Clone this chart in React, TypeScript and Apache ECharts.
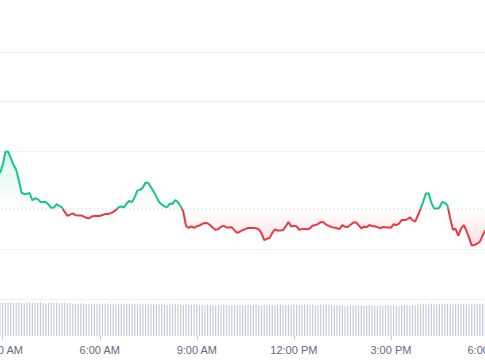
import React, { useEffect, useRef } from "react";
import * as echarts from "echarts";

// sampling: every 5 minutes starting at 2:55 AM
const startMinutes = 175;
const stepMinutes = 5;

const prices = [
  2.545, 2.711, 2.976, 2.984, 2.85, 2.719, 2.615, 2.397, 2.152, 2.121,
  2.132, 2.146, 1.998, 2.038, 2.022, 1.966, 1.964, 1.964, 1.915, 1.846,
  1.852, 1.921, 1.883, 1.854, 1.763, 1.684, 1.709, 1.733, 1.698, 1.69,
  1.692, 1.672, 1.644, 1.632, 1.668, 1.678, 1.68, 1.68, 1.702, 1.719,
  1.721, 1.733, 1.765, 1.802, 1.858, 1.874, 1.852, 1.933, 1.988, 1.962,
  2.067, 2.198, 2.209, 2.257, 2.358, 2.348, 2.263, 2.174, 2.073, 1.964,
  1.915, 1.872, 1.86, 1.933, 1.923, 2.004, 1.96, 1.879, 1.767, 1.478,
  1.439, 1.47, 1.439, 1.472, 1.486, 1.52, 1.538, 1.534, 1.494, 1.437,
  1.399, 1.415, 1.464, 1.48, 1.447, 1.445, 1.451, 1.389, 1.338, 1.362,
  1.397, 1.413, 1.437, 1.439, 1.439, 1.433, 1.409, 1.334, 1.192, 1.219,
  1.233, 1.338, 1.407, 1.385, 1.389, 1.395, 1.472, 1.559, 1.466, 1.484,
  1.47, 1.399, 1.415, 1.415, 1.411, 1.431, 1.488, 1.492, 1.52, 1.557,
  1.555, 1.5, 1.482, 1.453, 1.447, 1.431, 1.419, 1.496, 1.46, 1.457,
  1.502, 1.543, 1.555, 1.494, 1.431, 1.464, 1.453, 1.498, 1.478, 1.472,
  1.455, 1.433, 1.455, 1.453, 1.449, 1.441, 1.514, 1.494, 1.526, 1.599,
  1.599, 1.611, 1.654, 1.597, 1.567, 1.69, 1.826, 1.97, 2.138, 2.14,
  1.945, 1.836, 1.83, 1.848, 1.964, 1.945, 1.891, 1.634, 1.403, 1.421,
  1.283, 1.421, 1.498, 1.387, 1.239, 1.085, 1.093, 1.121, 1.158, 1.285,
  1.391,
];

const volumes = [
  90, 91, 89, 90, 92, 90, 89, 91, 90, 88, 90, 91, 89, 90, 90, 92, 89, 88, 90, 91, 89, 90, 88, 89, 90, 88, 89, 87,
  87, 86, 88, 87, 86, 87, 88, 86, 85, 87, 86, 88, 87, 86, 87, 85, 86, 87, 88, 86, 87,
  86, 87, 85, 86, 88, 86, 85, 87, 86, 85, 86, 87, 85, 84, 86, 85, 87, 86, 85, 84, 86, 85, 84, 86, 85, 84,
  84, 83, 85, 84, 83, 82, 84, 83, 85, 84, 83, 82, 84, 83, 84, 83,
  84, 85, 83, 84, 86, 84, 83, 85, 84, 85, 83, 84, 86, 85, 84, 83, 85, 84, 86, 85, 84, 83, 85, 86, 84, 85, 83, 84, 85, 84, 86, 85,
  83, 82, 84, 83, 82, 81, 83, 82, 84, 83, 82, 83, 81, 82, 84, 83, 82, 81, 83, 82, 83, 84, 82, 83, 81, 82, 83, 84, 83, 82, 84, 83, 85,
  86, 87, 85, 86, 88, 86, 85, 87, 86, 88, 87, 86, 85, 87, 86, 88, 86, 87, 85, 86, 87, 86, 88, 87, 86,
];

const openPrice = 1.822;
const tickLabels = ["12:00 AM", "3:00 AM", "6:00 AM", "9:00 AM", "12:00 PM", "3:00 PM", "6:00 PM"];

const GREEN = "#16c784";
const RED = "#ea3943";

export default function App() {
  const ref = useRef<HTMLDivElement>(null);

  useEffect(() => {
    if (!ref.current) return;
    const chart = echarts.init(ref.current, undefined, { renderer: "svg" });

    const hours = prices.map((_, i) => (startMinutes + i * stepMinutes) / 60);
    const maxV = Math.max(...prices);
    const minV = Math.min(...prices);
    const frac = (maxV - openPrice) / (maxV - minV);

    const pxPerHour = 32.35;
    const gridLeft = 2.7 - 3 * pxPerHour;
    const gridRight = 485 - (gridLeft + 18 * pxPerHour);

    const gc = "#f0f1f3";

    const lineGradient = new echarts.graphic.LinearGradient(0, 0, 0, 1, [
      { offset: 0, color: GREEN },
      { offset: frac, color: GREEN },
      { offset: frac, color: RED },
      { offset: 1, color: RED },
    ]);
    const areaGradient = new echarts.graphic.LinearGradient(0, 0, 0, 1, [
      { offset: 0, color: "rgba(22,199,132,0.16)" },
      { offset: frac, color: "rgba(22,199,132,0.0)" },
      { offset: frac, color: "rgba(234,57,67,0.0)" },
      { offset: 1, color: "rgba(234,57,67,0.15)" },
    ]);

    chart.setOption({
      animation: false,
      grid: [
        { left: gridLeft, right: gridRight, top: 52, bottom: 61, containLabel: false, outerBoundsMode: "none" },
        { left: gridLeft, right: gridRight, top: 299, bottom: 24, containLabel: false, outerBoundsMode: "none" },
      ],
      xAxis: [
        { type: "value", gridIndex: 0, min: 0, max: 18, interval: 3, show: false },
        {
          type: "value",
          gridIndex: 1,
          min: 0,
          max: 18,
          interval: 3,
          axisLine: { show: false },
          axisTick: { show: true, length: 4, lineStyle: { color: "#c3c9d4" } },
          splitLine: { show: false },
          axisLabel: {
            formatter: (v: number) => tickLabels[Math.round(v / 3)] ?? "",
            color: "#5f6b80",
            fontSize: 11,
            fontFamily: "Liberation Sans, Arial, sans-serif",
            margin: 8,
            hideOverlap: false,
          },
        },
      ],
      yAxis: [
        {
          type: "value",
          gridIndex: 0,
          min: 0,
          max: 5,
          interval: 1,
          axisLabel: { show: false },
          axisLine: { show: false },
          axisTick: { show: false },
          splitLine: {
            show: true,
            lineStyle: { color: [gc, gc, "rgba(0,0,0,0)", gc, gc, gc], width: 1 },
          },
        },
        { type: "value", gridIndex: 1, min: 0, max: 100, show: false, splitLine: { show: false } },
      ],
      series: [
        {
          type: "line",
          xAxisIndex: 0,
          yAxisIndex: 0,
          data: prices.map((p, i) => [hours[i], p]),
          symbol: "none",
          lineStyle: { width: 2, color: lineGradient },
          areaStyle: { origin: openPrice, opacity: 1, color: areaGradient },
          z: 3,
        },
        {
          type: "line",
          xAxisIndex: 0,
          yAxisIndex: 0,
          data: [
            [0, openPrice],
            [18, openPrice],
          ],
          symbol: "none",
          silent: true,
          lineStyle: { color: "#c2c2c2", type: [1, 3], width: 1 },
          z: 2,
        },
        {
          type: "bar",
          xAxisIndex: 1,
          yAxisIndex: 1,
          data: volumes.map((v, i) => [hours[i], v]),
          barWidth: 1.2,
          itemStyle: { color: "#c4cbd9" },
        },
      ],
    });

    return () => chart.dispose();
  }, []);

  return (
    <div
      ref={ref}
      style={{ position: "fixed", left: 0, top: 0, width: 485, height: 360, background: "#fff" }}
    />
  );
}
